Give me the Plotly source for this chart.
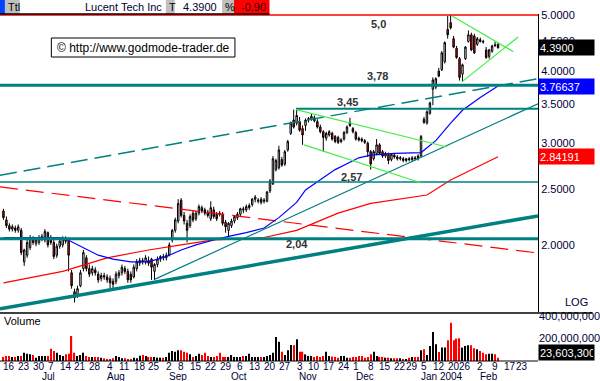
import plotly.graph_objects as go
import pandas as pd
import math

# ---------------- calendar (trading days) ----------------
holidays = {"2003-07-04", "2003-09-01", "2003-11-27", "2003-12-25",
            "2004-01-01", "2004-01-19", "2004-02-16"}
days = [d.strftime("%Y-%m-%d") for d in pd.bdate_range("2003-06-12", "2004-02-27")
        if d.strftime("%Y-%m-%d") not in holidays]
pos = {d: i for i, d in enumerate(days)}

# ---------------- price data (OHLC) ----------------
open_ = [2.29,2.21,2.16,2.13,2.14,2.12,2.12,1.87,1.92,1.98,2.05,2.01,2.02,2.05,2.04,2.10,2.06,2.02,1.92,1.99,
         2.00,2.05,2.04,1.79,1.66,1.64,1.70,1.82,1.90,1.82,1.79,1.81,1.78,1.75,1.77,1.76,1.75,1.73,1.73,1.77,
         1.79,1.82,1.80,1.78,1.76,1.82,1.86,1.88,1.87,1.88,1.89,1.80,1.85,1.89,1.91,1.90,1.92,2.04,2.12,2.20,
         2.39,2.25,2.18,2.16,2.27,2.22,2.27,2.32,2.30,2.28,2.22,2.30,2.26,2.27,2.26,2.19,2.12,2.16,2.20,2.23,
         2.26,2.31,2.30,2.32,2.35,2.40,2.38,2.40,2.38,2.38,2.48,2.55,2.70,2.72,2.81,2.76,2.92,3.12,3.29,3.25,
         3.27,3.18,3.22,3.29,3.30,3.32,3.27,3.20,3.14,3.06,3.10,3.12,3.08,3.07,3.02,3.05,3.13,3.26,3.18,3.13,
         3.06,3.05,3.03,3.00,2.90,2.82,2.88,2.98,2.90,2.85,2.87,2.81,2.86,2.84,2.82,2.82,2.80,2.82,2.81,2.83,
         2.85,2.85,3.30,3.25,3.38,3.72,3.75,4.00,4.02,4.15,4.72,4.85,4.55,4.38,4.20,3.95,4.20,4.50,4.62,4.60,
         4.45,4.53,4.50,4.35,4.24,4.33,4.44,4.45]
high = [2.31,2.24,2.18,2.17,2.16,2.17,2.14,1.97,2.04,2.08,2.07,2.06,2.08,2.09,2.13,2.11,2.08,2.04,2.01,2.05,
        2.07,2.07,2.06,1.81,1.68,1.70,1.81,1.96,1.92,1.85,1.84,1.83,1.80,1.79,1.79,1.78,1.77,1.75,1.80,1.81,
        1.85,1.84,1.82,1.80,1.85,1.89,1.90,1.90,1.92,1.91,1.90,1.86,1.91,1.92,1.93,1.94,2.02,2.13,2.23,2.40,
        2.41,2.28,2.21,2.26,2.29,2.29,2.35,2.34,2.32,2.30,2.38,2.33,2.28,2.29,2.28,2.21,2.19,2.22,2.25,2.28,
        2.32,2.33,2.35,2.36,2.41,2.44,2.41,2.42,2.41,2.48,2.60,2.85,2.82,2.97,2.84,2.92,3.04,3.27,3.43,3.45,
        3.33,3.22,3.31,3.33,3.37,3.35,3.30,3.23,3.16,3.14,3.16,3.14,3.10,3.09,3.06,3.15,3.22,3.32,3.20,3.15,
        3.08,3.07,3.05,3.02,2.92,2.92,3.05,3.00,2.92,2.90,2.89,2.88,2.88,2.86,2.85,2.84,2.83,2.84,2.85,2.85,
        2.87,3.10,3.33,3.42,3.54,3.90,3.90,4.05,4.33,4.50,4.98,5.00,4.60,4.42,4.23,4.12,4.42,4.70,4.66,4.64,
        4.58,4.57,4.53,4.40,4.37,4.44,4.50,4.47]
low = [2.21,2.14,2.11,2.11,2.10,2.10,1.92,1.84,1.90,1.96,2.00,1.99,2.00,2.03,2.02,1.98,2.00,1.89,1.90,1.97,
       1.98,2.01,1.80,1.68,1.59,1.62,1.69,1.80,1.80,1.76,1.77,1.77,1.72,1.73,1.74,1.72,1.68,1.67,1.71,1.75,
       1.77,1.78,1.72,1.72,1.75,1.80,1.84,1.85,1.85,1.84,1.74,1.74,1.83,1.87,1.88,1.88,1.91,2.02,2.10,2.18,
       2.23,2.17,2.02,2.14,2.19,2.20,2.25,2.27,2.25,2.23,2.20,2.22,2.20,2.24,2.16,2.10,2.07,2.14,2.18,2.21,
       2.24,2.27,2.28,2.30,2.33,2.37,2.36,2.35,2.36,2.37,2.46,2.54,2.68,2.70,2.73,2.74,2.90,3.10,3.18,3.22,
       3.14,2.98,3.15,3.26,3.28,3.26,3.18,3.12,2.90,3.03,3.08,3.03,3.00,2.99,3.00,3.03,3.11,3.20,3.12,3.03,
       3.02,3.01,2.99,2.84,2.70,2.80,2.86,2.86,2.83,2.83,2.76,2.79,2.82,2.80,2.80,2.78,2.78,2.79,2.79,2.80,
       2.80,2.84,3.24,3.23,3.36,3.49,3.72,3.90,4.00,4.12,4.55,4.72,4.38,4.20,3.85,3.83,4.18,4.48,4.33,4.28,
       4.42,4.48,4.46,4.20,4.20,4.30,4.40,4.37]
close = [2.23,2.16,2.13,2.15,2.12,2.15,1.94,1.96,2.02,2.06,2.02,2.04,2.06,2.07,2.11,2.00,2.02,1.91,1.99,2.03,
         2.05,2.03,1.92,1.70,1.62,1.68,1.79,1.94,1.82,1.78,1.82,1.79,1.74,1.77,1.76,1.74,1.72,1.71,1.78,1.79,
         1.83,1.80,1.74,1.74,1.83,1.87,1.88,1.87,1.90,1.86,1.83,1.85,1.89,1.91,1.90,1.92,2.00,2.12,2.21,2.36,
         2.25,2.20,2.12,2.24,2.21,2.27,2.33,2.29,2.27,2.25,2.32,2.24,2.22,2.26,2.18,2.15,2.18,2.20,2.24,2.26,
         2.31,2.30,2.33,2.34,2.40,2.42,2.39,2.37,2.39,2.47,2.58,2.82,2.80,2.92,2.75,2.90,3.02,3.25,3.20,3.35,
         3.16,3.10,3.29,3.31,3.34,3.28,3.20,3.14,3.07,3.12,3.14,3.05,3.02,3.01,3.04,3.13,3.20,3.22,3.14,3.05,
         3.04,3.03,3.01,2.90,2.76,2.90,2.98,2.88,2.85,2.88,2.80,2.87,2.84,2.82,2.83,2.80,2.82,2.81,2.83,2.82,
         2.82,3.08,3.26,3.40,3.52,3.86,3.88,3.92,4.30,4.48,4.62,4.75,4.40,4.22,3.90,4.10,4.40,4.62,4.35,4.30,
         4.55,4.50,4.49,4.22,4.35,4.42,4.43,4.39]

# volume in millions of shares
volume_m = [36,45,45,36,36,45,45,74,65,59, 53,30,45,45,45,45,110,89,74,53,
            45,59,65,222,74,45,53,74,45,36, 36,36,36,30,24,18,18,24,45,36,
            24,24,18,18,30,24,47,53,45,36, 36,36,30,30,30,36,74,89,83,95,
            95,83,74,59,36,45,65,53,74,45, 36,36,45,74,36,36,36,53,36,36,
            36,45,45,65,36,36,36,36,36,45, 53,74,214,172,83,53,95,142,139,
            193,83,83,59,45,45,36,45,36,45, 83,45,39,36,30,45,45,30,30,36,
            36,45,45,30,36,59,83,45,36,36, 30,30,24,24,24,24,15,9,30,36,
            36,36,95,104,53,134,258,148,80,119, 119,184,341,184,199,202,119,134,139,139,
            113,104,89,74,59,65,65,59,30]

# moving averages (trading-day index, value)
blue_ma_idx = [0, 9, 19, 21, 27, 32, 37, 43, 49, 52, 55, 60, 65, 71, 76, 82, 88, 93, 99, 102,
               107, 112, 117, 120, 124, 132, 141, 146, 151, 155, 161, 167]
blue_ma_val = [2.06, 2.06, 2.06, 2.05, 1.98, 1.92, 1.89, 1.87, 1.87, 1.89, 1.91, 1.96, 2.00, 2.04, 2.07,
               2.10, 2.14, 2.23, 2.37, 2.49, 2.59, 2.70, 2.78, 2.83, 2.86, 2.88, 2.89, 3.03, 3.25, 3.42,
               3.60, 3.76637]
red_ma_idx = [0, 20, 35, 49, 60, 71, 82, 88, 99, 113, 124, 143, 151, 167]
red_ma_val = [1.72, 1.80, 1.90, 1.96, 2.00, 2.04, 2.05, 2.06, 2.12, 2.27, 2.36, 2.44, 2.59, 2.84191]

# horizontal levels
lvl_red = 5.0
lvl_378 = 3.78
lvl_345 = 3.44
lvl_257 = 2.57
lvl_204 = 2.05

# trend lines (index, price)
up_x, up_y = [-1.17, 180.5], [1.55, 2.245]
dash_x, dash_y = [-1.17, 180.5], [2.64, 3.88]
thin_x, thin_y = [51.2, 180.5], [1.745, 3.51]
reddash_x, reddash_y = [-1.17, 180.5], [2.52, 1.937]
flag_up_x, flag_up_y = [98.8, 149.8], [3.43, 2.955]
flag_lo_x, flag_lo_y = [101.5, 141.2], [2.98, 2.56]
tri_up_x, tri_up_y = [151.5, 172.2], [4.98, 4.32]
tri_lo_x, tri_lo_y = [154.8, 173.8], [3.83, 4.58]

tick_dates = ["2003-06-16", "2003-06-23", "2003-06-30", "2003-07-07", "2003-07-14", "2003-07-21",
              "2003-07-28", "2003-08-04", "2003-08-11", "2003-08-18", "2003-08-25", "2003-09-02",
              "2003-09-08", "2003-09-15", "2003-09-22", "2003-09-29", "2003-10-06", "2003-10-13",
              "2003-10-20", "2003-10-27", "2003-11-03", "2003-11-10", "2003-11-17", "2003-11-24",
              "2003-12-01", "2003-12-08", "2003-12-15", "2003-12-22", "2003-12-29", "2004-01-05",
              "2004-01-12", "2004-01-20", "2004-01-26", "2004-02-02", "2004-02-09", "2004-02-17",
              "2004-02-23"]
tick_text = ["16", "23", "30", "7", "14", "21", "28", "4", "11", "18", "25", "2", "8", "15", "22", "29",
             "6", "13", "20", "27", "3", "10", "17", "24", "1", "8", "15", "22", "29", "5", "12", "20",
             "26", "2", "9", "17", "23"]
month_dates = ["2003-07-01", "2003-08-01", "2003-09-02", "2003-10-01", "2003-11-03", "2003-12-01",
               "2004-01-02", "2004-02-02"]
month_text = ["Jul", "Aug", "Sep", "Oct", "Nov", "Dec", "Jan 2004", "Feb"]

FONT = "Liberation Sans, Arial, sans-serif"
TEAL = "#008080"
GREEN = "#44ee44"
AXC = "#000033"

xi = list(range(len(close)))
vol = [v * 1e6 for v in volume_m]
vcol = ["#ff0000" if c < o else "#000000" for o, c in zip(open_, close)]

fig = go.Figure()

fig.add_trace(go.Candlestick(
    x=xi, open=open_, high=high, low=low, close=close, xaxis="x", yaxis="y",
    increasing=dict(line=dict(color="black", width=1), fillcolor="white"),
    decreasing=dict(line=dict(color="black", width=1), fillcolor="#ff0000"),
    whiskerwidth=0, hoverinfo="skip"))

def line(x, y, color, width, dash="solid"):
    fig.add_trace(go.Scatter(x=x, y=y, mode="lines", xaxis="x", yaxis="y",
                             line=dict(color=color, width=width, dash=dash), hoverinfo="skip"))

line(reddash_x, reddash_y, "#ff0000", 1.2, "18px,8px")
line(red_ma_idx, red_ma_val, "#ff0000", 1.2)
line(blue_ma_idx, blue_ma_val, "#0000ff", 1.2)
line(dash_x, dash_y, TEAL, 1.5, "17px,7px")
line(thin_x, thin_y, TEAL, 1.2)
line(up_x, up_y, TEAL, 3.5)
line([-2, 182], [lvl_red, lvl_red], "#ff0000", 1.6)
line([-2, 182], [lvl_378, lvl_378], TEAL, 3)
line([98.8, 182], [lvl_345, lvl_345], TEAL, 2)
line([-2, 182], [lvl_257, lvl_257], TEAL, 1.6)
line([-2, 182], [lvl_204, lvl_204], TEAL, 3)
for gx, gy in [(flag_up_x, flag_up_y), (flag_lo_x, flag_lo_y), (tri_up_x, tri_up_y), (tri_lo_x, tri_lo_y)]:
    line(gx, gy, GREEN, 1.2)

fig.add_trace(go.Bar(x=xi, y=vol, marker=dict(color=vcol, line=dict(width=0)), width=0.4,
                     xaxis="x2", yaxis="y2", hoverinfo="skip"))

W_PLOT, TOP, BOT = 545.0, 14.0, 361.0
H_PLOT = BOT - TOP
def px_x(x):
    return x / W_PLOT
def px_y(y):
    return (BOT - y) / H_PLOT

fig.update_layout(
    width=600, height=381, margin=dict(l=0, r=55, t=14, b=20),
    paper_bgcolor="white", plot_bgcolor="white", showlegend=False,
    font=dict(family=FONT, size=11, color="black"),
    xaxis=dict(domain=[0, 1], range=[-1.167, 180.5], anchor="y", showticklabels=False,
               showgrid=False, zeroline=False, rangeslider=dict(visible=False), ticks=""),
    xaxis2=dict(domain=[0, 1], range=[-1.167, 180.5], anchor="y2", matches="x",
                showticklabels=False, ticks="", showgrid=False, zeroline=False),
    yaxis=dict(domain=[px_y(312), 1], type="log", range=[math.log10(1.531), math.log10(5.02)],
               side="right", anchor="x", showgrid=False, zeroline=False, ticks="",
               tickvals=[2, 2.5, 3, 3.5, 4, 4.5, 5],
               ticktext=["2.0000", "2.5000", "3.0000", "3.5000", "4.0000", "4.5000", "5.0000"],
               showline=True, linecolor="black", linewidth=1, tickfont=dict(size=11, color=AXC)),
    yaxis2=dict(domain=[0, px_y(313)], range=[0, 427e6], side="right", anchor="x2",
                showgrid=False, zeroline=False, ticks="", tickvals=[200e6, 400e6],
                ticktext=["200,000,000", "400,000,000"], tickfont=dict(size=11, color=AXC)),
)

shapes = []
def rect(x0, y0, x1, y1, fill, lc=None, lw=0):
    shapes.append(dict(type="rect", xref="paper", yref="paper", x0=px_x(x0), x1=px_x(x1),
                       y0=px_y(y1), y1=px_y(y0), fillcolor=fill,
                       line=dict(color=lc or fill, width=lw), layer="above"))
def hline(x0, x1, y, color, w):
    shapes.append(dict(type="line", xref="paper", yref="paper", x0=px_x(x0), x1=px_x(x1),
                       y0=px_y(y), y1=px_y(y), line=dict(color=color, width=w), layer="above"))

# header bar
rect(0, 0, 5, 14, "#0044ff")
rect(5, 0, 20, 14, "#c0c0c0")
rect(168, 0, 177, 14, "#c0c0c0")
rect(225, 0, 237, 14, "#c0c0c0")
rect(237, 0, 273, 14, "#ff0000")
hline(0, 273, 14, "black", 1.5)
# copyright box
rect(52, 38, 238, 57, "white", "black", 1)
# panel separators
hline(0, 600, 313, "black", 1.5)
hline(0, 545, 361, "black", 1)
fig.update_layout(shapes=shapes)

ann = []
def text(x, y, s, anchor="left", size=11, color="black", bold=False):
    ann.append(dict(xref="paper", yref="paper", x=px_x(x), y=px_y(y), text=("<b>%s</b>" % s) if bold else s,
                    xanchor=anchor, yanchor="middle", showarrow=False,
                    font=dict(size=size, color=color, family=FONT)))

text(6, 7, "Ttl")
text(166, 7, "Lucent Tech Inc", "right", color=AXC)
text(169, 7, "T")
text(222, 7, "4.3900", "right", color=AXC)
text(226, 7, "%")
text(271, 7, "-0.90", "right", color="#330000")
text(145, 47.5, "© http://www.godmode-trader.de", "center", size=12)
text(2, 321, "Volume")
text(598, 302, "LOG", "right", color=AXC)
# level labels
text(383, 24, "5,0", "center", size=11, color="#333333", bold=True)
text(382, 76, "3,78", "center", size=11, color="#333333", bold=True)
text(352, 102, "3,45", "center", size=11, color="#333333", bold=True)
text(356, 177, "2,57", "center", size=11, color="#333333", bold=True)
text(301, 244, "2,04", "center", size=11, color="#333333", bold=True)
# day labels and month labels on the date axis
for d, s in zip(tick_dates, tick_text):
    ann.append(dict(xref="x2", yref="paper", x=pos[d], y=px_y(366.3), text=s, xanchor="center",
                    yanchor="middle", showarrow=False, borderpad=0, height=9,
                    font=dict(size=10, color=AXC, family=FONT)))
for d, s in zip(month_dates, month_text):
    ann.append(dict(xref="x2", yref="paper", x=pos[d] - 0.4, y=px_y(376.5), text=s, xanchor="left",
                    yanchor="middle", showarrow=False, borderpad=0, height=9,
                    font=dict(size=10, color=AXC, family=FONT)))

# value boxes on the price scale
def vbox(val, txt, bg):
    ann.append(dict(xref="paper", yref="y", x=1, y=math.log10(val), text=txt, xanchor="left",
                    yanchor="middle", showarrow=False, align="left", width=53, height=13,
                    bgcolor=bg, borderpad=1, font=dict(size=11, color="white", family=FONT)))
vbox(close[-1], "4.3900", "black")
vbox(blue_ma_val[-1], "3.76637", "#0000ff")
vbox(red_ma_val[-1], "2.84191", "#ff0000")
ann.append(dict(xref="paper", yref="paper", x=1, y=px_y(352), text="23,603,300", xanchor="left",
                yanchor="middle", showarrow=False, align="left", width=53, height=13, bgcolor="black",
                borderpad=1, font=dict(size=11, color="white", family=FONT)))
fig.update_layout(annotations=ann)

fig.write_html("out.html", config={"displayModeBar": False},
               post_script="document.body.style.margin='0';document.body.style.padding='0';")
